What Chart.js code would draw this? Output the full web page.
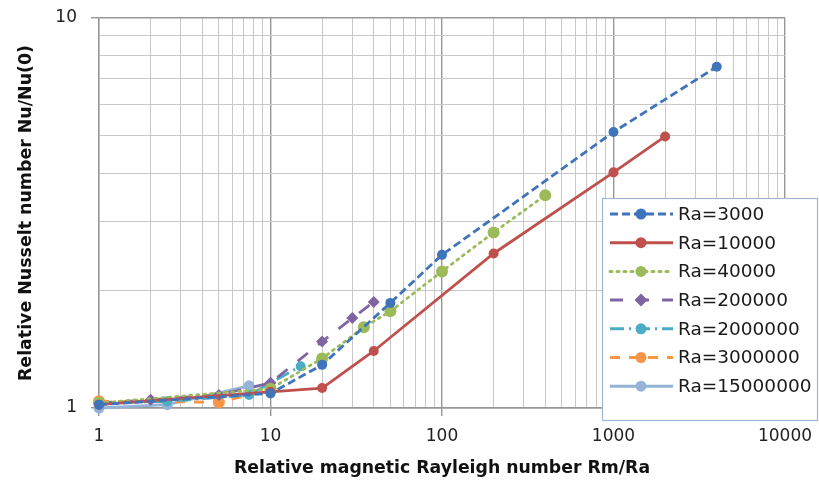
<!DOCTYPE html>
<html lang="en">
<head>
    <meta charset="UTF-8">
    <title>Relative Nusselt number</title>
    <script src="https://cdn.jsdelivr.net/npm/chart.js"></script>
    <style>
        body { margin: 0; background: #fff; }
        .chart-container { width: 819px; height: 485px; position: relative; }
    </style>
</head>
<body>
    <div class="chart-container">
        <canvas id="myChart"></canvas>
    </div>

    <script>
        // tick labels
        const xDecades = [1, 10, 100, 1000, 10000];
        const yDecades = [1, 10];
        const minorSteps = [2, 3, 4, 5, 6, 7, 8, 9];

        // series (Rm/Ra, Nu/Nu(0))
        const labels = ['Ra=3000', 'Ra=10000', 'Ra=40000', 'Ra=200000', 'Ra=2000000', 'Ra=3000000', 'Ra=15000000'];
        const ra3000X = [1, 10, 20, 50, 100, 1000, 4000];
        const ra3000Y = [1.02, 1.09, 1.29, 1.86, 2.47, 5.1, 7.5];
        const ra10000X = [1, 10, 20, 40, 200, 1000, 2000];
        const ra10000Y = [1.02, 1.10, 1.125, 1.40, 2.49, 4.02, 4.97];
        const ra40000X = [1, 10, 20, 35, 50, 100, 200, 400];
        const ra40000Y = [1.03, 1.12, 1.34, 1.61, 1.77, 2.24, 2.82, 3.51];
        const ra200000X = [1, 2, 5, 10, 20, 30, 40];
        const ra200000Y = [1.03, 1.05, 1.08, 1.16, 1.48, 1.70, 1.87];
        const ra2000000X = [1, 2.5, 7.5, 15];
        const ra2000000Y = [1.03, 1.04, 1.08, 1.28];
        const ra3000000X = [1, 5, 10];
        const ra3000000Y = [1.04, 1.035, 1.11];
        const ra15000000X = [1, 2.5, 7.5];
        const ra15000000Y = [1.0, 1.02, 1.14];

        const seriesX = [ra3000X, ra10000X, ra40000X, ra200000X, ra2000000X, ra3000000X, ra15000000X];
        const seriesY = [ra3000Y, ra10000Y, ra40000Y, ra200000Y, ra2000000Y, ra3000000Y, ra15000000Y];
        const colors = ['#3f74bb', '#c0504d', '#9bbb59', '#8064a2', '#4bacc6', '#f79646', '#95b3d7'];
        const dashes = [[8, 4], [], [2, 5], [13, 13], [14, 5, 2, 5], [10, 9], []];
        const markers = ['circle', 'circle', 'circle', 'rectRot', 'circle', 'circle', 'circle'];
        const radii = [5, 5, 6, 6, 5, 6, 5.5];

        const FONT = '"DejaVu Sans", Verdana, sans-serif';

        function ticksFor(decades) {
            const out = [];
            decades.forEach((d, i) => {
                out.push({ value: d, major: true });
                if (i < decades.length - 1) minorSteps.forEach(m => out.push({ value: d * m, major: false }));
            });
            return out;
        }

        const datasets = labels.map((label, i) => ({
            label: label,
            data: seriesX[i].map((x, j) => ({ x: x, y: seriesY[i][j] })),
            showLine: true,
            borderColor: colors[i],
            backgroundColor: colors[i],
            borderWidth: 2.8,
            borderDash: dashes[i],
            borderCapStyle: i === 2 ? 'round' : 'butt',
            pointStyle: markers[i],
            pointRadius: radii[i],
            pointBorderWidth: 0,
            tension: 0,
            clip: false
        }));

        // legend sits inside the plot, bottom right, like the excel one
        const insideLegend = {
            id: 'insideLegend',
            afterDraw(chart) {
                const c = chart.ctx;
                const bx = 602, by = 198, bw = 215, bh = 222;
                c.save();
                c.fillStyle = '#fff';
                c.fillRect(bx, by, bw, bh);
                c.strokeStyle = '#9fb6d6';
                c.lineWidth = 1.2;
                c.strokeRect(bx + 0.5, by + 0.5, bw, bh);
                c.font = '18.5px ' + FONT;
                c.textBaseline = 'middle';
                datasets.forEach((ds, i) => {
                    const y = 214 + i * 28.7;
                    c.strokeStyle = ds.borderColor;
                    c.lineWidth = 3;
                    c.setLineDash(ds.borderDash);
                    c.lineCap = ds.borderCapStyle;
                    c.beginPath();
                    c.moveTo(610, y);
                    c.lineTo(673, y);
                    c.stroke();
                    c.setLineDash([]);
                    c.fillStyle = ds.backgroundColor;
                    c.beginPath();
                    if (ds.pointStyle === 'rectRot') {
                        const r = 6.5;
                        c.moveTo(641, y - r); c.lineTo(641 + r, y); c.lineTo(641, y + r); c.lineTo(641 - r, y);
                        c.closePath();
                    } else {
                        c.arc(641, y, 5.5, 0, Math.PI * 2);
                    }
                    c.fill();
                    c.fillStyle = '#1a1a1a';
                    c.fillText(ds.label, 678, y + 1);
                });
                c.restore();
            }
        };

        const gridColor = ctx => ctx.tick && ctx.tick.major ? '#979797' : '#c8c8c8';
        const tickColor = ctx => ctx.tick && ctx.tick.major ? '#979797' : 'rgba(0,0,0,0)';
        const gridWidth = ctx => ctx.tick && ctx.tick.major ? 1.4 : 1;

        const ctx = document.getElementById('myChart').getContext('2d');
        new Chart(ctx, {
            type: 'scatter',
            data: { datasets: datasets },
            plugins: [insideLegend],
            options: {
                responsive: true,
                maintainAspectRatio: false,
                animation: false,
                layout: { padding: { top: 18, right: 34, left: 14, bottom: 6 } },
                plugins: { legend: { display: false }, tooltip: { enabled: false } },
                scales: {
                    x: {
                        type: 'logarithmic',
                        min: 1,
                        max: 10000,
                        afterBuildTicks: s => { s.ticks = ticksFor(xDecades); },
                        afterFit: s => { s.height = 71; s.paddingLeft = 0; s.paddingRight = 0; },
                        grid: { color: gridColor, tickColor: tickColor, lineWidth: gridWidth, tickLength: 8 },
                        border: { color: '#979797', width: 1.4 },
                        ticks: {
                            autoSkip: false,
                            maxRotation: 0,
                            padding: 10,
                            color: '#222',
                            font: { family: FONT, size: 17 },
                            callback: (v, i, t) => t[i].major ? String(v) : ''
                        },
                        title: {
                            display: true,
                            text: 'Relative magnetic Rayleigh number Rm/Ra',
                            color: '#111',
                            font: { family: FONT, size: 17.3, weight: 'bold' },
                            padding: { top: 4, bottom: 0 }
                        }
                    },
                    y: {
                        type: 'logarithmic',
                        min: 1,
                        max: 10,
                        afterBuildTicks: s => { s.ticks = ticksFor(yDecades); },
                        afterFit: s => { s.width = 85; s.paddingTop = 0; s.paddingBottom = 0; },
                        grid: { color: gridColor, tickColor: tickColor, lineWidth: gridWidth, tickLength: 8 },
                        border: { color: '#979797', width: 1.4 },
                        ticks: {
                            autoSkip: false,
                            padding: 14,
                            color: '#222',
                            font: { family: FONT, size: 17 },
                            callback: (v, i, t) => t[i].major ? String(v) : ''
                        },
                        title: {
                            display: true,
                            text: 'Relative Nusselt number Nu/Nu(0)',
                            color: '#111',
                            font: { family: FONT, size: 17.4, weight: 'bold' },
                            padding: { top: 2, bottom: 0 }
                        }
                    }
                }
            }
        });
    </script>
</body>
</html>
